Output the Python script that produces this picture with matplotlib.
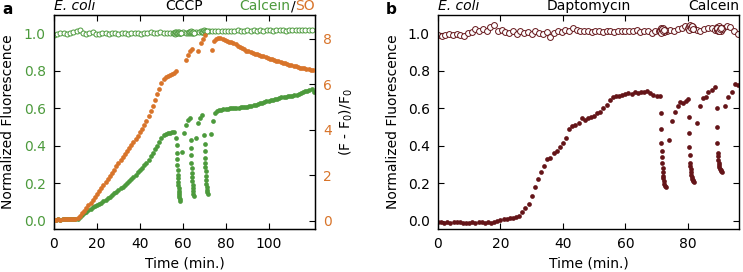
import numpy as np
import matplotlib
matplotlib.use("Agg")
import matplotlib.pyplot as plt

GREEN = "#4c9a3c"
ORANGE = "#d8742a"
DARKRED = "#641418"

# ---------- panel a: E. coli + CCCP ----------

# calcein (filled dots), sampled once a minute until the first pulse
a_cal_t0 = np.arange(0, 57)
a_cal_v0 = [0.005, 0.004, 0.006, 0.005, 0.007, 0.006, 0.008, 0.007, 0.006, 0.008, 0.009, 0.010,
            0.018, 0.028, 0.038, 0.047, 0.055, 0.063, 0.070, 0.076, 0.081, 0.087, 0.095, 0.102,
            0.110, 0.118, 0.127, 0.135, 0.145, 0.155,
            0.162, 0.172, 0.181, 0.191, 0.201, 0.211, 0.222, 0.235, 0.246, 0.258, 0.270, 0.283,
            0.297, 0.310, 0.325, 0.343, 0.360, 0.380, 0.400, 0.420,
            0.440, 0.455, 0.465, 0.470, 0.468, 0.472, 0.475]
a_cal_t1 = [57.0, 57.1, 57.2, 57.3, 57.4, 57.5, 57.6, 57.7, 57.8, 57.9, 58.0, 58.1, 58.2, 58.3, 58.4, 58.5, 58.6,
            59.4, 60.4, 61.3, 62.3, 63.2]
a_cal_v1 = [0.44, 0.404, 0.36, 0.33, 0.297, 0.27, 0.244, 0.225, 0.208, 0.19, 0.173, 0.158, 0.145, 0.135, 0.124, 0.113, 0.102,
            0.368, 0.466, 0.51, 0.535, 0.548]
a_cal_t2 = [63.7, 63.8, 63.9, 64.0, 64.1, 64.2, 64.3, 64.4, 64.5, 64.6, 64.7, 64.85, 65.0,
            66.1, 67.1, 68.0, 69.0]
a_cal_v2 = [0.43, 0.39, 0.35, 0.31, 0.28, 0.255, 0.235, 0.21, 0.19, 0.172, 0.158, 0.142, 0.13,
            0.44, 0.52, 0.546, 0.562]
a_cal_t3 = [70.0, 70.1, 70.2, 70.3, 70.4, 70.5, 70.6, 70.7, 70.8, 70.9, 71.0, 71.15, 71.3, 71.5]
a_cal_v3 = [0.457, 0.41, 0.37, 0.335, 0.31, 0.285, 0.265, 0.24, 0.217, 0.195, 0.178, 0.164, 0.152, 0.142]
a_cal_t4 = np.arange(72.9, 121, 1.0)
a_cal_v4 = [0.463, 0.53, 0.575, 0.585, 0.59, 0.592, 0.594, 0.597, 0.596, 0.60,
            0.601, 0.60, 0.603, 0.602, 0.605, 0.604, 0.607, 0.608, 0.61, 0.612,
            0.615, 0.618, 0.622, 0.626, 0.63, 0.635, 0.638, 0.641, 0.644, 0.643,
            0.647, 0.651, 0.655, 0.658, 0.66, 0.662, 0.665, 0.667, 0.668, 0.671,
            0.672, 0.676, 0.68, 0.686, 0.694, 0.693, 0.698, 0.703, 0.686]

# calcein reference (open circles)
a_ref_t = np.arange(0, 120.1, 1.5)
a_ref_v = [0.99, 0.995, 1.0, 1.002, 0.998, 1.004, 1.008, 1.012,
           1.016, 1.004, 0.996, 1.002, 1.008, 0.998, 0.996, 1.0,
           1.003, 0.998, 1.0, 1.002, 0.999, 1.001, 1.0, 0.998,
           1.002, 1.0, 1.004, 0.999, 1.003, 1.0, 1.005, 1.001,
           1.003, 1.006, 1.0, 1.004, 1.002, 1.0, 1.003, 1.004,
           1.005, 1.003, 1.006, 1.004, 1.007, 1.005, 1.008, 1.01,
           1.012, 1.01, 1.014, 1.012, 1.015, 1.013, 1.015, 1.012,
           1.014, 1.016, 1.013, 1.015, 1.017, 1.014, 1.016, 1.015,
           1.017, 1.014, 1.016, 1.018, 1.015, 1.017, 1.016, 1.018,
           1.015, 1.018, 1.016, 1.019, 1.017, 1.018, 1.016, 1.019,
           1.017]
a_ref_pulse_t = [55.8, 56.1, 56.4, 56.7, 57.0, 57.3, 57.6, 57.9, 58.2, 58.5, 58.8, 59.1,
                 62.6, 62.9, 63.2, 63.5, 63.8, 64.1, 64.4, 64.7, 65.0,
                 68.6, 68.9, 69.2, 69.5, 69.8, 70.1, 70.4, 70.7, 71.0]
a_ref_pulse_v = [1.0, 1.006, 0.998, 1.004, 1.008, 1.0, 1.005, 1.002, 1.006, 1.0, 1.004, 1.003,
                 1.004, 1.009, 1.002, 1.007, 1.01, 1.003, 1.006, 1.008, 1.004,
                 1.012, 1.006, 1.014, 1.009, 1.016, 1.008, 1.012, 1.015, 1.01]

# SO, (F - F0)/F0 on the right axis
a_so_t0 = np.arange(0, 58)
a_so_v0 = [0.05, 0.04, 0.06, 0.05, 0.07, 0.06, 0.08, 0.07, 0.09, 0.08, 0.1, 0.12,
           0.2, 0.33, 0.45, 0.57, 0.68, 0.8, 0.92, 1.05, 1.18, 1.31, 1.44, 1.57, 1.7, 1.84,
           1.97, 2.11, 2.25, 2.39,
           2.53, 2.66, 2.8, 2.93, 3.06, 3.2, 3.33, 3.47, 3.6, 3.74, 3.88, 4.03, 4.2, 4.4,
           4.6, 4.83, 5.05, 5.3, 5.55, 5.8,
           6.05, 6.22, 6.32, 6.38, 6.42, 6.45, 6.5, 6.58]
a_so_t1 = [61.5, 62.4, 63.3, 64.1, 67.2, 68.3, 69.3, 70.3, 73.4]
a_so_v1 = [7.08, 7.3, 7.48, 7.55, 7.44, 7.8, 8.0, 8.15, 7.52]
a_so_t2 = np.arange(74.5, 121, 1.0)
a_so_v2 = [7.9, 7.98, 8.02, 8.04, 8.0, 7.96, 7.9, 7.86, 7.84, 7.8,
           7.75, 7.7, 7.64, 7.58, 7.53, 7.48, 7.44, 7.41, 7.37, 7.34,
           7.31, 7.28, 7.25, 7.22, 7.19, 7.16, 7.12, 7.09, 7.06, 7.03,
           7.0, 6.97, 6.94, 6.91, 6.88, 6.86, 6.83, 6.8, 6.78, 6.76,
           6.73, 6.71, 6.69, 6.67, 6.65, 6.63, 6.61]

# ---------- panel b: E. coli + daptomycin ----------

b_cal_t0 = np.arange(0, 72)
b_cal_v0 = [-0.005, -0.01, -0.012, -0.01, -0.012, -0.01, -0.008, -0.01, -0.014, -0.012,
            -0.015, -0.008, -0.014, -0.01, -0.008, -0.012, -0.01, -0.012, -0.006, -0.002,
            0.004, 0.008, 0.006, 0.013, 0.012, 0.02, 0.025, 0.045, 0.066, 0.088,
            0.132, 0.178, 0.22, 0.26, 0.294, 0.328, 0.333, 0.36, 0.37, 0.395,
            0.413, 0.44, 0.488, 0.505, 0.512, 0.523, 0.546, 0.537, 0.55, 0.555,
            0.56, 0.573, 0.582, 0.6, 0.617, 0.644, 0.66, 0.668, 0.665, 0.671,
            0.675, 0.68, 0.678, 0.685, 0.683, 0.688, 0.686, 0.69, 0.68, 0.672,
            0.667, 0.664]
b_cal_t1 = [71.3, 71.4, 71.5, 71.6, 71.7, 71.8, 71.9, 72.0, 72.1, 72.2, 72.35, 72.5, 72.7, 72.9,
            74.1, 74.9, 75.9, 76.9, 77.5, 78.5, 79.5, 80.0]
b_cal_v1 = [0.576, 0.49, 0.413, 0.37, 0.338, 0.306, 0.28, 0.26, 0.24, 0.225, 0.21, 0.195, 0.185, 0.178,
            0.43, 0.53, 0.58, 0.61, 0.635, 0.628, 0.64, 0.648]
b_cal_t2 = [80.3, 80.4, 80.5, 80.6, 80.7, 80.8, 80.9, 81.0, 81.1, 81.25, 81.4, 81.6, 81.8, 82.0,
            83.1, 83.9, 85.0, 85.8, 86.6, 87.6, 88.7]
b_cal_v2 = [0.555, 0.466, 0.394, 0.35, 0.31, 0.29, 0.275, 0.26, 0.245, 0.232, 0.222, 0.215, 0.21, 0.207,
            0.52, 0.61, 0.653, 0.66, 0.688, 0.696, 0.712]
b_cal_t3 = [89.3, 89.4, 89.5, 89.6, 89.7, 89.8, 89.9, 90.0, 90.15, 90.3, 90.5, 90.7, 90.9,
            92.0, 93.0, 94.1, 95.1, 96.2]
b_cal_v3 = [0.603, 0.498, 0.413, 0.363, 0.345, 0.325, 0.31, 0.297, 0.287, 0.278, 0.27, 0.265, 0.262,
            0.61, 0.662, 0.688, 0.73, 0.724]

b_ref_t = np.arange(0, 96.1, 1.2)
b_ref_v = [0.99, 0.988, 0.992, 0.995, 0.99, 0.998, 0.992, 0.988, 1.0, 1.005,
           1.022, 1.01, 1.025, 1.015, 1.035, 1.044, 1.012, 1.02, 1.005, 1.0,
           1.01, 0.995, 1.015, 1.0, 1.008, 0.996, 1.012, 1.0, 0.995, 1.008,
           0.98, 1.0, 1.012, 1.008, 1.02, 1.012, 1.03, 1.018, 1.015, 1.01,
           1.012, 1.008, 1.01, 1.014, 1.006, 1.01, 1.012, 1.008, 1.012, 1.01,
           1.014, 1.01, 1.012, 1.016, 1.008, 1.012, 1.01, 1.004, 1.012, 1.015,
           1.005, 1.012, 1.02, 1.015, 1.025, 1.03, 1.04, 1.028, 1.03, 1.02,
           1.015, 1.022, 1.028, 1.03, 1.02, 1.025, 1.03, 1.04, 1.035, 1.01,
           0.995]
b_ref_pulse_t = [71.0, 71.2, 71.4, 71.6, 71.8, 72.0, 72.2, 72.4, 72.6, 71.3, 71.7, 72.1, 72.5,
                 80.2, 80.4, 80.6, 80.8, 81.0, 81.2, 81.4, 81.6, 81.8, 80.5, 80.9, 81.3, 81.7,
                 89.2, 89.4, 89.6, 89.8, 90.0, 90.2, 90.4, 90.6, 90.8, 89.5, 89.9, 90.3, 90.7]
b_ref_pulse_v = [1.02, 1.01, 1.03, 1.005, 1.022, 1.012, 1.028, 1.008, 1.018, 1.0, 1.025, 1.015, 1.02,
                 1.03, 1.04, 1.025, 1.045, 1.032, 1.022, 1.04, 1.028, 1.035, 1.02, 1.03, 1.038, 1.025,
                 1.02, 1.032, 1.015, 1.028, 1.038, 1.02, 1.03, 1.012, 1.025, 1.03, 1.01, 1.022, 1.028]


def style_axes(ax, xlim, xticks):
    ax.set_xlim(*xlim)
    ax.set_xticks(xticks)
    ax.set_ylim(-0.045, 1.098)
    ax.set_yticks(np.arange(0, 1.01, 0.2))
    ax.yaxis.set_major_formatter(matplotlib.ticker.FormatStrFormatter("%.1f"))
    ax.tick_params(direction="in", length=4, width=0.8, pad=6, labelsize=10, top=True)
    for s in ax.spines.values():
        s.set_linewidth(1.0)
    ax.set_xlabel("Time (min.)", fontsize=10)
    ax.set_ylabel("Normalized Fluorescence", fontsize=10)


fig = plt.figure(figsize=(7.43, 2.72), dpi=100)
ax_a = fig.add_axes([54 / 743, 43 / 272, 261 / 743, 214 / 272])
ax_b = fig.add_axes([438 / 743, 43 / 272, 301 / 743, 214 / 272])

dot = dict(ls="none", marker="o", ms=3.4, mew=0)

# panel a
ring_a = dict(ls="none", marker="o", ms=3.6, mew=0.7, mfc="white")
ax_a.plot(a_ref_t, a_ref_v, color=GREEN, mec=GREEN, **ring_a)
ax_a.plot(a_ref_pulse_t, a_ref_pulse_v, color=GREEN, mec=GREEN, **ring_a)
for t, v in [(a_cal_t0, a_cal_v0), (a_cal_t1, a_cal_v1), (a_cal_t2, a_cal_v2),
             (a_cal_t3, a_cal_v3), (a_cal_t4, a_cal_v4)]:
    ax_a.plot(t, v, color=GREEN, **dot)
style_axes(ax_a, (0, 121.5), np.arange(0, 101, 20))
ax_a.tick_params(axis="y", colors=GREEN, right=False)
ax_a.tick_params(axis="y", color="black")
ax_a.yaxis.set_label_coords(-0.15, 0.5)
ax_a.xaxis.set_label_coords(0.5, -0.13)

ax_a2 = ax_a.twinx()
for t, v in [(a_so_t0, a_so_v0), (a_so_t1, a_so_v1), (a_so_t2, a_so_v2)]:
    ax_a2.plot(t, v, color=ORANGE, **dot)
ax_a2.set_ylim(-0.36, 9.04)
ax_a2.set_yticks([0, 2, 4, 6, 8])
ax_a2.tick_params(direction="in", length=4, width=0.8, pad=6, labelsize=10,
                  labelcolor=ORANGE)
ax_a2.set_ylabel("(F - F$_0$)/F$_0$", fontsize=10)
ax_a2.yaxis.set_label_coords(1.085, 0.5)

ax_a.text(0, 1.008, "E. coli", style="italic", fontsize=10, transform=ax_a.transAxes,
          ha="left", va="bottom")
ax_a.text(0.5, 1.008, "CCCP", fontsize=10, transform=ax_a.transAxes, ha="center", va="bottom")
so = ax_a.text(1.0, 1.008, "SO", color=ORANGE, fontsize=10, transform=ax_a.transAxes,
               ha="right", va="bottom")
sl = ax_a.annotate("/", xy=(0, 0), xycoords=so, fontsize=10, ha="right", va="bottom")
ax_a.annotate("Calcein", xy=(0, 0), xycoords=sl, fontsize=10, color=GREEN, ha="right", va="bottom")

# panel b
ring_b = dict(ls="none", marker="o", ms=4.2, mew=0.7, mfc="white")
ax_b.plot(b_ref_t, b_ref_v, color=DARKRED, mec=DARKRED, **ring_b)
ax_b.plot(b_ref_pulse_t, b_ref_pulse_v, color=DARKRED, mec=DARKRED, **ring_b)
for t, v in [(b_cal_t0, b_cal_v0), (b_cal_t1, b_cal_v1), (b_cal_t2, b_cal_v2), (b_cal_t3, b_cal_v3)]:
    ax_b.plot(t, v, color=DARKRED, **dot)
style_axes(ax_b, (0, 96.4), np.arange(0, 81, 20))
ax_b.tick_params(right=True)
ax_b.yaxis.set_label_coords(-0.125, 0.5)
ax_b.xaxis.set_label_coords(0.5, -0.13)

ax_b.text(0, 1.008, "E. coli", style="italic", fontsize=10, transform=ax_b.transAxes,
          ha="left", va="bottom")
ax_b.text(0.5, 1.008, "Daptomycin", fontsize=10, transform=ax_b.transAxes, ha="center", va="bottom")
ax_b.text(1.0, 1.008, "Calcein", fontsize=10, transform=ax_b.transAxes, ha="right", va="bottom")

fig.text(2 / 743, 1 - 2 / 272, "a", fontsize=11, fontweight="bold", ha="left", va="top")
fig.text(386 / 743, 1 - 2 / 272, "b", fontsize=11, fontweight="bold", ha="left", va="top")

fig.savefig("out.png", dpi=100)
